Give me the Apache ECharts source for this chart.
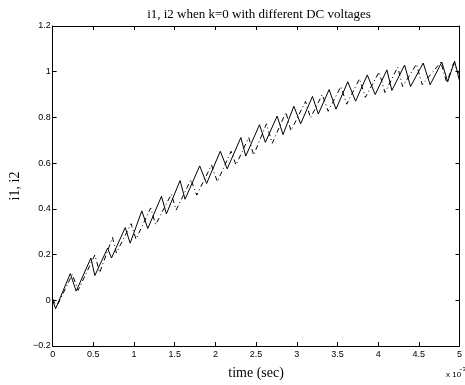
<!DOCTYPE html>
<html>
<head>
<meta charset="utf-8">
<script src="https://cdn.jsdelivr.net/npm/echarts@6/dist/echarts.min.js"></script>
<style>
html,body{margin:0;padding:0;background:#fff;}
#chart{width:465px;height:385px;}
</style>
</head>
<body>
<div id="chart"></div>
<script>
// time in units of 1e-3 s
var i1Time = [0,0.036,0.217,0.289,0.470,0.518,0.675,0.723,0.892,0.952,1.096,1.169,1.337,1.398,1.566,1.627,1.807,1.892,2.060,2.145,2.313,2.373,2.542,2.614,2.759,2.831,2.964,3.048,3.193,3.265,3.398,3.482,3.627,3.723,3.867,3.964,4.108,4.169,4.325,4.398,4.554,4.639,4.783,4.855,4.940,5.0];
var i1Values = [0.0,-0.037,0.117,0.040,0.185,0.108,0.228,0.185,0.318,0.250,0.391,0.314,0.455,0.378,0.524,0.442,0.588,0.511,0.652,0.575,0.712,0.631,0.768,0.691,0.806,0.725,0.849,0.772,0.892,0.815,0.922,0.836,0.956,0.871,0.986,0.900,1.008,0.918,1.029,0.935,1.038,0.943,1.042,0.956,1.046,0.961];
var i2Time = [0,0.048,0.241,0.313,0.518,0.578,0.735,0.783,0.964,1.024,1.205,1.265,1.458,1.518,1.699,1.771,1.952,2.024,2.193,2.253,2.410,2.470,2.627,2.699,2.867,2.928,3.108,3.169,3.313,3.386,3.542,3.614,3.771,3.843,4.012,4.084,4.241,4.301,4.470,4.542,4.771,4.843,4.928,5.0];
var i2Values = [0.006,-0.029,0.113,0.044,0.198,0.121,0.275,0.207,0.335,0.267,0.404,0.331,0.464,0.395,0.528,0.460,0.592,0.519,0.652,0.592,0.712,0.635,0.772,0.687,0.823,0.742,0.870,0.798,0.900,0.827,0.935,0.858,0.969,0.888,0.999,0.909,1.020,0.935,1.033,0.943,1.042,0.952,1.038,0.990];
var xTicks = {min:0, max:5, interval:0.5};
var yTicks = {min:-0.2, max:1.2, interval:0.2};

function pairs(t, v){ var out=[]; for(var i=0;i<t.length;i++){ out.push([t[i], v[i]]); } return out; }

var chart = echarts.init(document.getElementById('chart'), null, {renderer:'canvas'});
var tickFont = {fontFamily:'Liberation Sans', fontSize:9, color:'#000'};
function yfmt(v){ var s = (Math.round(v*10)/10).toString(); return s.replace('-', '\u2212'); }
function xfmt(v){ return (Math.round(v*10)/10).toString(); }

var axisLineStyle = {show:true, onZero:false, lineStyle:{color:'#000', width:1}};
var tickStyle = {show:true, inside:true, length:4, lineStyle:{color:'#000', width:1}};

chart.setOption({
  animation:false,
  backgroundColor:'#fff',
  title:{
    text:'i1, i2 when k=0 with different DC voltages',
    left:254, top:3, textAlign:'center',
    textStyle:{fontFamily:'Liberation Serif', fontSize:13, fontWeight:'normal', color:'#000'}
  },
  grid:{left:47, right:3, top:26, bottom:32, containLabel:false},
  xAxis:[{
    type:'value', min:xTicks.min, max:xTicks.max, interval:xTicks.interval,
    position:'bottom',
    name:'time (sec)', nameLocation:'middle', nameGap:20,
    nameTextStyle:{fontFamily:'Liberation Serif', fontSize:14, color:'#000'},
    axisLine:axisLineStyle, axisTick:tickStyle,
    axisLabel:Object.assign({margin:4, formatter:xfmt, showMaxLabel:true, showMinLabel:true}, tickFont),
    splitLine:{show:false}
  },{
    type:'value', min:xTicks.min, max:xTicks.max, interval:xTicks.interval,
    position:'top',
    axisLine:axisLineStyle, axisTick:tickStyle,
    axisLabel:{show:false}, splitLine:{show:false}
  }],
  yAxis:[{
    type:'value', min:yTicks.min, max:yTicks.max, interval:yTicks.interval,
    position:'left',
    name:'i1, i2', nameLocation:'middle', nameGap:30,
    nameTextStyle:{fontFamily:'Liberation Serif', fontSize:14, color:'#000'},
    axisLine:axisLineStyle, axisTick:tickStyle,
    axisLabel:Object.assign({margin:2, formatter:yfmt, showMaxLabel:true, showMinLabel:true}, tickFont),
    splitLine:{show:false}
  },{
    type:'value', min:yTicks.min, max:yTicks.max, interval:yTicks.interval,
    position:'right',
    axisLine:axisLineStyle, axisTick:tickStyle,
    axisLabel:{show:false}, splitLine:{show:false}
  }],
  series:[{
    type:'line', name:'i1', data:pairs(i1Time, i1Values),
    showSymbol:false, symbol:'none',
    lineStyle:{color:'#000', width:1, type:'solid'}
  },{
    type:'line', name:'i2', data:pairs(i2Time, i2Values),
    showSymbol:false, symbol:'none',
    lineStyle:{color:'#000', width:1, type:[5,3,1,3]}
  }],
  graphic:[{
    type:'text', left:446, top:371,
    style:{text:'x 10', fontFamily:'Liberation Sans', fontSize:8, fill:'#000'}
  },{
    type:'text', left:459, top:366,
    style:{text:'\u22123', fontFamily:'Liberation Sans', fontSize:6, fill:'#000'}
  }]
});
</script>
</body>
</html>
